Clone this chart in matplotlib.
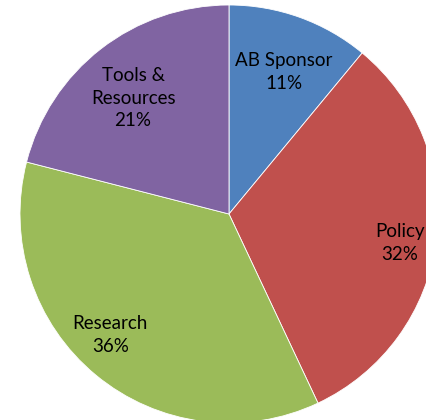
import matplotlib
matplotlib.use("Agg")
import matplotlib.pyplot as plt
import numpy as np

categories = ["AB Sponsor", "Policy", "Research", "Tools &\nResources"]
values = [11, 32, 36, 21]
colors = ["#4F81BD", "#C0504D", "#9BBB59", "#8064A2"]
label_dist = [0.73, 0.83, 0.81, 0.72]
label_dangle = [-1.4, -2.4, -4.9, 1.8]

W, H = 427, 420
fig = plt.figure(figsize=(W / 100, H / 100), dpi=100)
cx, cy, R = 229, 214, 209
ax = fig.add_axes([(cx - R) / W, (H - cy - R) / H, 2 * R / W, 2 * R / H])
wedges, _ = ax.pie(values, colors=colors, startangle=90, counterclock=False,
                   radius=1.0, wedgeprops=dict(edgecolor="white", linewidth=0.6))
for w, cat, v, d, da in zip(wedges, categories, values, label_dist, label_dangle):
    ang = np.deg2rad((w.theta1 + w.theta2) / 2 + da)
    ax.text(d * np.cos(ang), d * np.sin(ang), f"{cat}\n{v}%", ha="center", va="center",
            fontsize=13.5, family="Lato", color="black", linespacing=1.4)
ax.set_xlim(-1, 1)
ax.set_ylim(-1, 1)
ax.set_aspect("equal")
ax.axis("off")
fig.savefig("out.png", dpi=100)
